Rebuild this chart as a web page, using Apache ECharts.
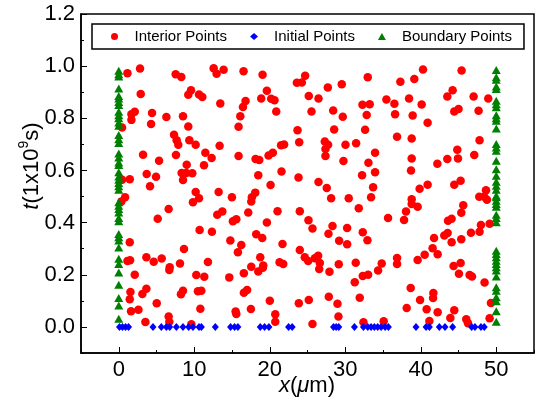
<!DOCTYPE html>
<html>
<head>
<meta charset="utf-8">
<script src="https://cdn.jsdelivr.net/npm/echarts@6/dist/echarts.min.js"></script>
<style>
  html, body { margin: 0; padding: 0; background: #ffffff; }
  #chart { width: 537px; height: 403px; }
</style>
</head>
<body>
<div id="chart"></div>
<script>
// Collocation points: interior (x in um, t in 1e9 s)
const interiorPoints = [
  [1.15,0.973],[2.82,0.991],[7.54,0.969],[8.29,0.958],[12.57,0.992],[12.96,0.971],[13.89,0.986],[16.53,0.980],
  [2.91,0.893],[9.57,0.908],[9.21,0.890],[10.63,0.891],[11.07,0.882],[13.45,0.857],[16.45,0.843],
  [2.12,0.825],[1.68,0.816],[1.68,0.794],[4.41,0.820],[6.31,0.805],[8.51,0.808],[4.28,0.778],[9.21,0.769],[16.10,0.808],[15.87,0.768],
  [0.44,0.765],[7.32,0.737],[7.67,0.716],[7.89,0.699],[9.35,0.716],[10.19,0.699],[13.36,0.695],
  [3.22,0.660],[5.34,0.637],[7.58,0.659],[11.47,0.668],[12.30,0.648],[15.87,0.655],[9.00,0.622],[11.29,0.620],
  [3.70,0.586],[4.94,0.576],[8.33,0.590],[8.95,0.590],[9.74,0.589],[8.51,0.563],[0.44,0.564],[1.46,0.566],[4.14,0.539],
  [10.19,0.517],[13.23,0.517],[0.84,0.497],[10.63,0.493],[14.99,0.497],
  [19.05,0.967],[24.69,0.963],[23.59,0.936],[24.25,0.937],[27.69,0.918],[29.54,0.931],[32.98,0.957],
  [19.62,0.906],[18.87,0.876],[20.19,0.875],[20.63,0.869],[25.17,0.886],[26.46,0.876],[35.45,0.872],[16.80,0.866],
  [32.28,0.852],[33.24,0.854],[20.86,0.826],[25.53,0.826],[28.40,0.830],[29.67,0.806],[32.84,0.813],
  [23.68,0.754],[28.53,0.757],[32.63,0.756],[23.90,0.708],[27.29,0.711],[27.73,0.699],[27.38,0.682],[27.38,0.655],
  [30.03,0.699],[31.44,0.704],[33.95,0.668],[21.50,0.697],[21.90,0.700],
  [20.41,0.668],[19.84,0.657],[18.12,0.644],[18.61,0.640],[29.76,0.636],[33.07,0.630],
  [21.56,0.596],[18.48,0.582],[23.81,0.573],[32.23,0.582],[33.95,0.593],
  [20.11,0.544],[26.46,0.556],[27.55,0.533],[33.69,0.536],[18.08,0.515],[17.63,0.497],[28.13,0.493],[30.46,0.493],[33.42,0.497],
  [40.30,0.987],[45.41,0.983],[37.30,0.940],[39.15,0.951],[36.51,0.856],[38.45,0.876],[40.12,0.853],[44.22,0.908],[43.52,0.884],[47.00,0.884],[48.94,0.876],
  [44.44,0.826],[45.01,0.836],[47.66,0.829],[36.60,0.816],[38.93,0.811],[40.91,0.783],
  [36.86,0.729],[38.80,0.723],[47.79,0.716],[44.84,0.679],[38.80,0.646],[43.52,0.644],[44.93,0.646],[47.09,0.659],[42.20,0.626],[38.71,0.600],
  [39.85,0.530],[40.91,0.545],[44.44,0.545],[45.28,0.561],[48.64,0.524],[38.80,0.490],[47.75,0.499],[48.41,0.499],
  [0.35,0.481],[6.61,0.452],[5.16,0.415],[9.83,0.478],[13.05,0.430],[13.72,0.443],[15.12,0.405],[15.57,0.413],[10.71,0.372],[12.34,0.365],
  [1.46,0.325],[14.78,0.331],[16.23,0.314],[8.64,0.299],[15.78,0.286],[3.66,0.267],[1.15,0.253],[1.50,0.256],[4.63,0.250],[5.69,0.262],
  [6.75,0.229],[6.70,0.218],[8.11,0.243],[11.81,0.249],[2.12,0.200],[10.27,0.199],[11.33,0.192],[14.64,0.190],[16.57,0.206],
  [1.55,0.134],[3.66,0.146],[3.13,0.126],[8.51,0.139],[8.24,0.125],[10.49,0.137],[10.94,0.139],[16.57,0.131],
  [1.46,0.106],[5.03,0.091],[10.81,0.070],[1.63,0.060],[2.61,0.066],[15.48,0.059],[15.57,0.050],[3.53,0.019],[6.61,0.040],[6.70,0.020],[9.62,0.010],
  [17.55,0.481],[17.15,0.439],[21.03,0.444],[23.98,0.444],[31.79,0.455],[35.67,0.418],[19.62,0.400],[25.13,0.409],[25.66,0.377],[28.31,0.387],
  [30.25,0.379],[27.78,0.357],[32.32,0.363],[32.94,0.332],[18.21,0.355],[19.01,0.341],[21.69,0.318],[29.19,0.330],[30.25,0.317],[23.98,0.295],
  [18.74,0.267],[24.64,0.267],[25.09,0.253],[25.97,0.263],[26.41,0.273],[21.30,0.248],[21.79,0.241],[19.14,0.236],[19.09,0.227],[17.55,0.231],
  [18.48,0.213],[26.63,0.245],[26.55,0.222],[27.91,0.212],[29.14,0.240],[31.39,0.246],[34.83,0.243],[34.35,0.216],[32.32,0.195],[33.03,0.200],
  [31.26,0.171],[17.00,0.142],[20.01,0.100],[17.50,0.069],[23.85,0.091],[25.17,0.103],[27.82,0.116],[28.97,0.089],[31.92,0.112],
  [20.73,0.049],[20.73,0.020],[25.66,0.011],[29.10,0.040],[32.41,0.018],[35.09,0.022],
  [38.80,0.471],[39.59,0.461],[48.77,0.488],[45.63,0.467],[38.05,0.443],[37.79,0.410],[45.37,0.438],[43.61,0.407],[44.09,0.415],[47.97,0.391],
  [49.12,0.396],[46.65,0.361],[47.79,0.365],[43.12,0.351],[43.56,0.360],[41.76,0.341],[45.37,0.336],[44.09,0.325],[41.57,0.302],[40.52,0.277],
  [42.24,0.279],[36.86,0.264],[36.86,0.241],[39.59,0.257],[44.35,0.234],[45.28,0.245],[45.06,0.204],[46.47,0.199],[46.79,0.193],[48.45,0.170],
  [38.67,0.149],[41.67,0.130],[41.63,0.111],[39.91,0.103],[38.14,0.073],[40.78,0.068],[42.24,0.056],[44.44,0.064],[41.14,0.023],[43.92,0.034],
  [46.03,0.029],[46.26,0.014],[49.30,0.092],[49.12,0.033]
];

// Initial condition points (t = 0)
const initialX = [
  0.1, 0.5, 0.9, 1.3, 4.54, 5.64, 6.31, 6.75, 7.63, 8.51, 9.26, 9.83, 10.63, 10.94, 12.79, 14.81, 15.34, 15.78,
  18.74, 19.31, 19.89, 22.49, 22.97, 28.44, 28.80, 29.14, 31.22, 32.41, 32.98, 33.42, 33.86, 34.30, 34.75, 35.28, 35.71,
  39.37, 40.70, 41.14, 42.46, 43.21, 44.22, 46.74, 47.18, 47.97, 48.41
];

// Boundary points: left edge x = 0 and right edge x = 50
const boundaryLeftX = 0;
const boundaryRightX = 50;
const boundaryLeftT = [
  0.982, 0.969, 0.960, 0.914, 0.886, 0.876, 0.863, 0.851, 0.825, 0.812, 0.800, 0.784, 0.771, 0.736, 0.720, 0.705,
  0.665, 0.650, 0.631, 0.621, 0.593, 0.577, 0.564, 0.552, 0.539, 0.526,
  0.478, 0.465, 0.452, 0.439, 0.418, 0.405, 0.356, 0.344, 0.331, 0.305, 0.261, 0.241, 0.209, 0.162, 0.111, 0.082, 0.031
];
const boundaryRightT = [
  0.985, 0.957, 0.948, 0.922, 0.912, 0.867, 0.854, 0.842, 0.812, 0.800, 0.791, 0.761, 0.701, 0.688, 0.676, 0.637,
  0.605, 0.580, 0.557, 0.541, 0.526, 0.503,
  0.497, 0.484, 0.471, 0.461, 0.430, 0.418, 0.401, 0.292, 0.280, 0.267, 0.254, 0.241, 0.229, 0.216, 0.193,
  0.152, 0.139, 0.114, 0.098, 0.060, 0.020
];

// Axis ticks
const xMajorTicks = [0, 10, 20, 30, 40, 50];
const yMajorTicks = [0, 0.2, 0.4, 0.6, 0.8, 1.0, 1.2];

const FONT = '"Liberation Sans", Arial, Helvetica, sans-serif';

const chart = echarts.init(document.getElementById('chart'), null, { renderer: 'canvas' });

// Minor-tick axes carry the frame line; major-tick axes carry the labels.
const minorAxisCommon = {
  type: 'value',
  axisLine: { show: true, onZero: false, lineStyle: { color: '#000', width: 1.5 } },
  axisTick: { show: true, inside: true, length: 3, lineStyle: { color: '#000', width: 1 } },
  axisLabel: { show: false },
  splitLine: { show: false }
};

const majorAxisCommon = {
  type: 'value',
  axisLine: { show: false, onZero: false },
  splitLine: { show: false }
};

chart.setOption({
  animation: false,
  backgroundColor: '#ffffff',
  grid: {
    left: 81, right: 3, top: 14, bottom: 50,
    show: true, borderColor: '#000', borderWidth: 1.5, backgroundColor: 'transparent'
  },
  legend: {
    left: 92, top: 24,
    orient: 'horizontal',
    padding: [4, 12, 4, 19],
    itemGap: 23,
    itemWidth: 8,
    itemHeight: 7,
    borderColor: '#000',
    borderWidth: 1.5,
    borderRadius: 0,
    textStyle: { fontFamily: FONT, fontSize: 15, color: '#000', lineHeight: 17, padding: [0, 0, 0, 11] },
    data: [
      { name: 'Interior Points', icon: 'circle' },
      { name: 'Initial Points', icon: 'diamond' },
      { name: 'Boundary Points', icon: 'triangle' }
    ]
  },
  xAxis: [
    Object.assign({}, minorAxisCommon, { min: -5, max: 55, interval: 5, position: 'bottom' }),
    Object.assign({}, majorAxisCommon, {
      min: -5, max: 55, position: 'bottom',
      axisTick: { show: true, inside: true, length: 6, customValues: xMajorTicks, lineStyle: { color: '#000', width: 1 } },
      axisLabel: {
        show: true, customValues: xMajorTicks, margin: 6,
        fontFamily: FONT, fontSize: 22, color: '#000',
        formatter: v => String(v)
      }
    })
  ],
  yAxis: [
    Object.assign({}, minorAxisCommon, { min: -0.1, max: 1.2, interval: 0.1, position: 'left' }),
    Object.assign({}, majorAxisCommon, {
      min: -0.1, max: 1.2, position: 'left',
      axisTick: { show: true, inside: true, length: 6, customValues: yMajorTicks, lineStyle: { color: '#000', width: 1 } },
      axisLabel: {
        show: true, customValues: yMajorTicks, margin: 6,
        fontFamily: FONT, fontSize: 22, color: '#000',
        formatter: v => Number(v).toFixed(1)
      }
    })
  ],
  graphic: [
    {
      type: 'text',
      x: 307, y: 386,
      style: {
        text: '{i|x}({i|μ}m)',
        fontFamily: FONT, fontSize: 22, fill: '#000',
        align: 'center', verticalAlign: 'middle',
        rich: {
          i: { fontFamily: FONT, fontSize: 22, fontStyle: 'italic', fill: '#000' }
        }
      }
    },
    {
      type: 'text',
      x: 30, y: 166,
      rotation: Math.PI / 2,
      style: {
        text: '{i|t}{n|(1x10}{s|9}{n|s)}',
        fontFamily: FONT, fontSize: 22, fill: '#000',
        align: 'center', verticalAlign: 'middle',
        rich: {
          i: { fontFamily: FONT, fontSize: 22, fontStyle: 'italic', fill: '#000', lineHeight: 26, verticalAlign: 'bottom' },
          n: { fontFamily: FONT, fontSize: 22, fill: '#000', lineHeight: 26, verticalAlign: 'bottom' },
          s: { fontFamily: FONT, fontSize: 14, fill: '#000', lineHeight: 14, verticalAlign: 'top' }
        }
      }
    }
  ],
  series: [
    {
      name: 'Interior Points', type: 'scatter', xAxisIndex: 0, yAxisIndex: 0,
      data: interiorPoints, symbol: 'circle', symbolSize: 8.5,
      itemStyle: { color: '#ff0000', opacity: 1 }
    },
    {
      name: 'Initial Points', type: 'scatter', xAxisIndex: 0, yAxisIndex: 0,
      data: initialX.map(x => [x, 0]), symbol: 'diamond', symbolSize: [7, 8],
      itemStyle: { color: '#0000ff', opacity: 1 }
    },
    {
      name: 'Boundary Points', type: 'scatter', xAxisIndex: 0, yAxisIndex: 0,
      data: boundaryLeftT.map(t => [boundaryLeftX, t]).concat(boundaryRightT.map(t => [boundaryRightX, t])),
      symbol: 'triangle', symbolSize: [9, 8],
      itemStyle: { color: '#008000', opacity: 1 }
    }
  ]
});
</script>
</body>
</html>
